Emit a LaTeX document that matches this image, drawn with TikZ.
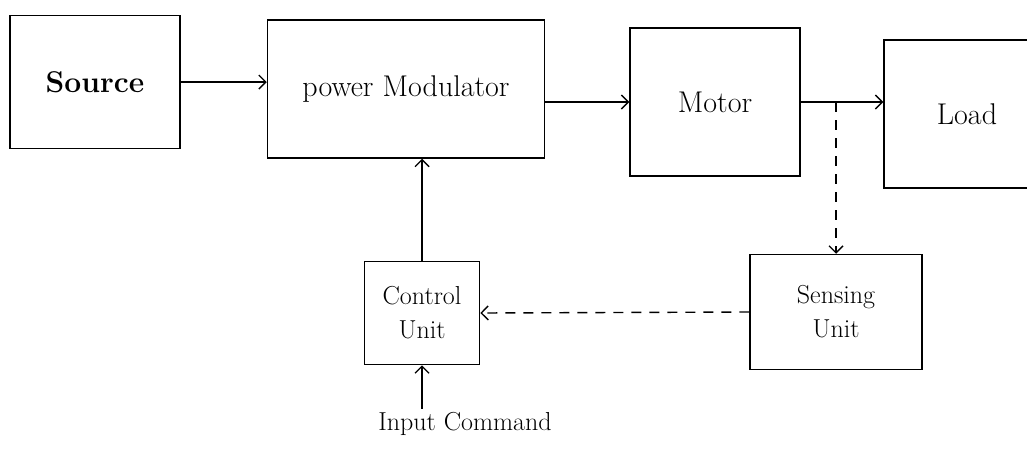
\documentclass[tikz,border=0pt]{standalone}
\usepackage{tikz}
\usetikzlibrary{arrows.meta,positioning}

\begin{document}
\begin{tikzpicture}[x=1pt,y=-1pt,
  block/.style={draw, line width=1.5pt, align=center, inner sep=2pt,
    font=\fontsize{30}{36}\selectfont},
  small block/.style={block, font=\fontsize{26}{34}\selectfont},
  arrow/.style={-{Straight Barb[length=7pt,width=14pt]}, line width=1.4pt},
  sense/.style={arrow, dash pattern=on 10pt off 8pt}
]
  \useasboundingbox (0,0) rectangle (1027,448);
  \clip (0,0) rectangle (1027,448);

  % Power path
  \node[block, minimum width=170, minimum height=133] (source) at (95,82) {\bfseries Source};
  \node[block, minimum width=277, minimum height=138] (pm) at (406,89) {power Modulator};
  \node[block, minimum width=170, minimum height=148] (motor) at (715,102) {Motor};
  \node[block, minimum width=166, minimum height=148] (load) at (967,114) {Load};

  % Feedback loop
  \node[small block, minimum width=115, minimum height=103] (control) at (422,313) {Control\\Unit};
  \node[small block, minimum width=172, minimum height=115] (sensing) at (836,312) {Sensing\\Unit};
  \node[font=\fontsize{26}{30}\selectfont] (input) at (465,424) {Input Command};

  \draw[arrow] (source.east) -- (pm.west |- source.east);
  \draw[arrow] (pm.east |- motor.west) -- (motor.west);
  \draw[arrow] (motor.east) -- (load.west |- motor.east);
  \draw[sense] (sensing.north |- motor.east) -- (sensing.north);
  \draw[sense] (sensing.west) -- (control.east);
  \draw[arrow] (control.north) -- (pm.south -| control.north);
  \draw[arrow] (control.south |- input.north) -- (control.south);
\end{tikzpicture}
\end{document}
